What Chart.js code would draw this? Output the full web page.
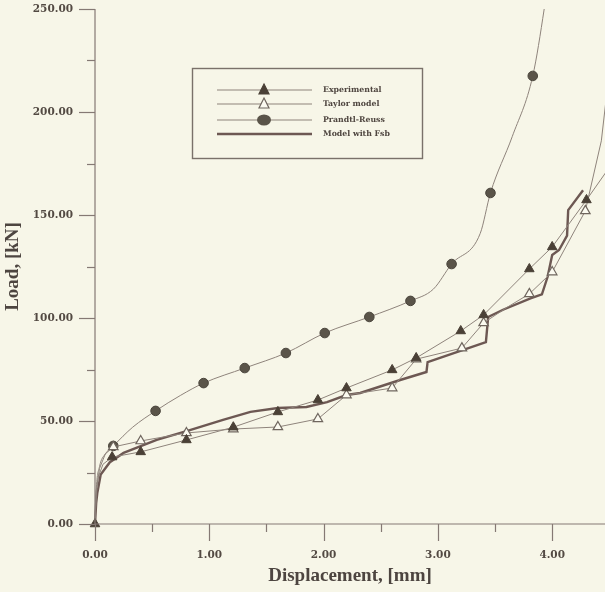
<!DOCTYPE html>
<html>
<head>
<meta charset="utf-8">
<script src="https://cdn.jsdelivr.net/npm/chart.js@4.4.1/dist/chart.umd.min.js"></script>
<style>
    body { margin: 0; background: #f7f6e8; }
    #wrap { width: 605px; height: 592px; position: relative; }
</style>
</head>
<body>
<div id="wrap"><canvas id="loadChart"></canvas></div>
<script>
// Data: displacement [mm] vs load [kN]
const expX = [0, 0.01, 0.03, 0.07, 0.15, 0.40, 0.80, 1.21, 1.60, 1.95, 2.20, 2.60, 2.81, 3.20, 3.40, 3.80, 4.00, 4.30, 4.60];
const expY = [0, 14, 23, 29, 32.5, 35, 40.8, 47, 54.4, 60.2, 66, 74.8, 80.6, 93.7, 101.5, 123.8, 134.5, 157.3, 181];
const expMarked = [0, 4, 5, 6, 7, 8, 9, 10, 11, 12, 13, 14, 15, 16, 17];

const taylorX = [0, 0.01, 0.04, 0.09, 0.16, 0.40, 0.80, 1.21, 1.60, 1.95, 2.20, 2.60, 2.81, 3.21, 3.40, 3.60, 3.80, 4.00, 4.29, 4.43, 4.50];
const taylorY = [0, 16, 27, 34, 37.4, 40.3, 44.2, 46.1, 47.1, 51.0, 62.6, 66.0, 80.0, 85.4, 97.6, 105, 111.7, 122.3, 152, 186, 220];
const taylorMarked = [4, 5, 6, 7, 8, 9, 10, 11, 12, 13, 14, 16, 17, 18];

const prandtlX = [0, 0.01, 0.04, 0.09, 0.16, 0.33, 0.53, 0.75, 0.95, 1.31, 1.67, 2.01, 2.40, 2.76, 2.96, 3.12, 3.37, 3.46, 3.65, 3.83, 3.93, 3.95];
const prandtlY = [0, 16, 28, 34, 37.9, 47, 54.9, 62.5, 68.4, 75.7, 83.0, 92.7, 100.5, 108.3, 114, 126.2, 141, 160.7, 188, 217.5, 250, 258];
const prandtlMarked = [4, 6, 8, 9, 10, 11, 12, 13, 15, 17, 19];

const fsbX = [0, 0.01, 0.02, 0.05, 0.13, 0.25, 0.54, 0.83, 1.12, 1.36, 1.60, 1.85, 2.03, 2.20, 2.32, 2.67, 2.90, 2.91, 3.42, 3.44, 3.57, 3.81, 3.91, 3.96, 4.00, 4.06, 4.13, 4.14, 4.27];
const fsbY = [0, 10, 15, 24, 30, 34.5, 40.8, 45.6, 50.5, 54.4, 56.3, 56.8, 59.2, 62.6, 63.6, 69.9, 73.8, 78.6, 88.3, 100.5, 104, 109.5, 111.5, 120, 130.6, 133, 140, 152.4, 162];

const seriesNames = ["Experimental", "Taylor model", "Prandtl-Reuss", "Model with Fsb"];

const xTicksMajor = 1.0, xTicksStep = 0.5;
const yTicksMajor = 50, yTicksStep = 25;

const axisColor = "#857974";
const textColor = "#534a43";
const thinColor = "#8e837b";

function pts(xs, ys) {
    return xs.map((x, i) => ({ x: x, y: ys[i] }));
}
function marked(list, r) {
    return ctx => list.includes(ctx.dataIndex) ? r : 0;
}

// Legend box and axis ticks drawn by hand, like the original figure
const paperPlugin = {
    id: "paper",
    afterDraw(chart) {
        const ctx = chart.ctx;
        const xs = chart.scales.x, ys = chart.scales.y;
        const area = chart.chartArea;
        ctx.save();
        ctx.strokeStyle = axisColor;
        ctx.lineWidth = 1.2;
        ctx.beginPath();
        ctx.moveTo(area.left, area.top);
        ctx.lineTo(area.left, area.bottom);
        ctx.lineTo(area.right, area.bottom);
        ctx.stroke();
        ys.ticks.forEach(t => {
            const py = Math.round(ys.getPixelForValue(t.value)) + 0.5;
            const len = t.value % yTicksMajor === 0 ? 16 : 8;
            ctx.beginPath();
            ctx.moveTo(area.left - len, py);
            ctx.lineTo(area.left, py);
            ctx.stroke();
        });
        xs.ticks.forEach(t => {
            const px = Math.round(xs.getPixelForValue(t.value)) + 0.5;
            const major = Math.abs(t.value / xTicksMajor - Math.round(t.value / xTicksMajor)) < 1e-6;
            const len = major ? 17 : 8;
            ctx.beginPath();
            ctx.moveTo(px, area.bottom);
            ctx.lineTo(px, area.bottom + len);
            ctx.stroke();
        });

        // legend
        const bx = 192, by = 68, bw = 230, bh = 90;
        ctx.lineWidth = 1.4;
        ctx.strokeStyle = "#7a716a";
        ctx.strokeRect(bx + 0.5, by + 0.5, bw, bh);
        const rows = [90, 104, 120, 134];
        ctx.font = "bold 7.8px 'DejaVu Serif'";
        ctx.textBaseline = "middle";
        chart.data.datasets.forEach((ds, i) => {
            const ry = rows[i];
            ctx.strokeStyle = ds.borderColor;
            ctx.lineWidth = ds.borderWidth;
            ctx.beginPath();
            ctx.moveTo(217, ry);
            ctx.lineTo(312, ry);
            ctx.stroke();
            if (ds.pointStyle === "triangle") {
                ctx.beginPath();
                ctx.moveTo(264, ry - 6);
                ctx.lineTo(269, ry + 4);
                ctx.lineTo(259, ry + 4);
                ctx.closePath();
                ctx.fillStyle = ds.pointBackgroundColor;
                ctx.fill();
                ctx.strokeStyle = ds.pointBorderColor;
                ctx.lineWidth = 1.2;
                ctx.stroke();
            } else if (ds.pointStyle === "circle") {
                ctx.beginPath();
                ctx.ellipse(264, ry, 7, 5.5, 0, 0, Math.PI * 2);
                ctx.fillStyle = ds.pointBackgroundColor;
                ctx.fill();
            }
            ctx.fillStyle = "#4f4640";
            ctx.fillText(seriesNames[i], 323, ry);
        });
        ctx.restore();
    }
};

const pad = { left: 10, bottom: 10, top: 0, right: 0 };

new Chart(document.getElementById("loadChart"), {
    type: "line",
    data: {
        datasets: [
            {
                label: seriesNames[0],
                data: pts(expX, expY),
                borderColor: thinColor,
                borderWidth: 1,
                pointStyle: "triangle",
                pointRadius: marked(expMarked, 5.5),
                pointBackgroundColor: "#4a4036",
                pointBorderColor: "#4a4036",
                pointBorderWidth: 1,
                tension: 0,
                clip: pad,
            },
            {
                label: seriesNames[1],
                data: pts(taylorX, taylorY),
                borderColor: thinColor,
                borderWidth: 1,
                pointStyle: "triangle",
                pointRadius: marked(taylorMarked, 5.5),
                pointBackgroundColor: "#fbfaf0",
                pointBorderColor: "#6f665e",
                pointBorderWidth: 1.2,
                tension: 0,
                clip: pad,
            },
            {
                label: seriesNames[2],
                data: pts(prandtlX, prandtlY),
                borderColor: thinColor,
                borderWidth: 1,
                pointStyle: "circle",
                pointRadius: marked(prandtlMarked, 4.8),
                pointBackgroundColor: "#5a5449",
                pointBorderColor: "#4a453c",
                pointBorderWidth: 1,
                cubicInterpolationMode: "monotone",
                clip: pad,
            },
            {
                label: seriesNames[3],
                data: pts(fsbX, fsbY),
                borderColor: "#6d5853",
                borderWidth: 2.4,
                pointRadius: 0,
                tension: 0,
                clip: pad,
            },
        ],
    },
    options: {
        responsive: true,
        maintainAspectRatio: false,
        animation: false,
        events: [],
        layout: { autoPadding: false, padding: { top: 9, right: 0, left: 0, bottom: 0 } },
        plugins: {
            legend: { display: false },
            tooltip: { enabled: false },
        },
        scales: {
            x: {
                type: "linear",
                min: 0,
                max: 4.462,
                afterBuildTicks: s => {
                    s.ticks = s.ticks.filter(t => Math.abs(t.value / xTicksStep - Math.round(t.value / xTicksStep)) < 1e-6);
                },
                afterFit: s => { s.height = 68; s.paddingLeft = 0; s.paddingRight = 0; },
                grid: { display: false, drawTicks: false },
                border: { display: false },
                ticks: {
                    stepSize: xTicksStep,
                    autoSkip: false,
                    maxRotation: 0,
                    padding: 25,
                    color: textColor,
                    font: { family: "'DejaVu Serif'", size: 10.5, weight: "bold" },
                    callback: v => Math.abs(v / xTicksMajor - Math.round(v / xTicksMajor)) < 1e-6 ? v.toFixed(2) : "",
                },
                title: {
                    display: true,
                    text: "Displacement, [mm]",
                    color: "#4d4540",
                    font: { family: "'Liberation Serif'", size: 19, weight: "bold" },
                    padding: { top: 0, bottom: 5 },
                },
            },
            y: {
                min: 0,
                max: 250,
                afterFit: s => { s.width = 95; s.paddingTop = 0; s.paddingBottom = 0; },
                grid: { display: false, drawTicks: false },
                border: { display: false },
                ticks: {
                    stepSize: yTicksStep,
                    autoSkip: false,
                    padding: 22,
                    color: textColor,
                    font: { family: "'DejaVu Serif'", size: 10.5, weight: "bold" },
                    callback: v => v % yTicksMajor === 0 ? v.toFixed(2) : "",
                },
                title: {
                    display: true,
                    text: "Load, [kN]",
                    color: "#4d4540",
                    font: { family: "'Liberation Serif'", size: 19, weight: "bold" },
                    padding: { top: 2, bottom: 0 },
                },
            },
        },
    },
    plugins: [paperPlugin],
});
</script>
</body>
</html>
